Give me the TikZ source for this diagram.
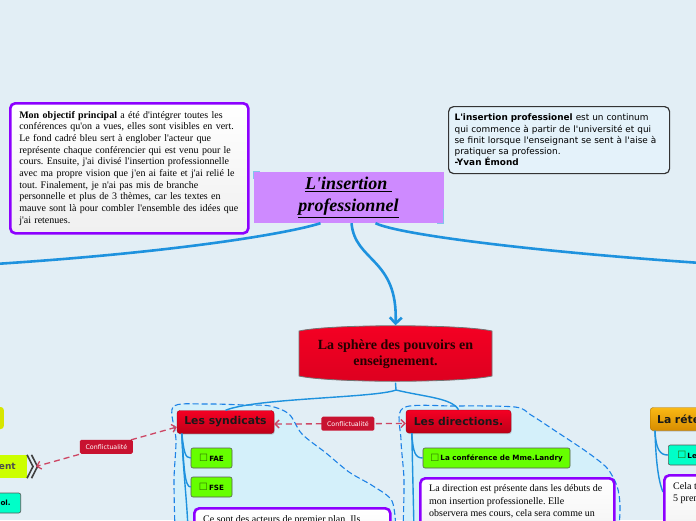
\documentclass[tikz,border=0pt]{standalone}
\usepackage{fontspec}
\setmainfont{Liberation Serif}[Ligatures=TeXOff]
\newfontfamily\vsans{DejaVu Sans}[Ligatures=TeXOff]
\usetikzlibrary{arrows.meta,positioning,shadows}
\frenchspacing

\definecolor{mapbg}{RGB}{226,238,245}
\definecolor{linkblue}{RGB}{30,146,222}
\definecolor{notepurple}{RGB}{140,0,255}
\definecolor{titlemauve}{RGB}{206,138,255}
\definecolor{topicred}{RGB}{245,0,35}
\definecolor{topicdark}{RGB}{190,0,25}
\definecolor{conflictred}{RGB}{200,18,48}
\definecolor{dashpink}{RGB}{205,70,100}
\definecolor{leafgreen}{RGB}{102,255,0}
\definecolor{leafteal}{RGB}{0,255,200}
\definecolor{limeleaf}{RGB}{204,255,0}
\definecolor{yellowtopic}{RGB}{215,230,0}
\definecolor{orangetop}{RGB}{250,185,20}
\definecolor{orangebot}{RGB}{215,140,0}
\definecolor{zonefill}{RGB}{212,240,250}
\definecolor{zoneline}{RGB}{30,130,230}
\definecolor{quotefill}{RGB}{228,242,250}
\definecolor{boxgreen}{RGB}{45,110,0}

\newcommand{\cbox}{{\mdseries\fontsize{10}{9}\selectfont\color{boxgreen}\raisebox{-0.6pt}{\char"2610}}\,}

\tikzset{
  mainlink/.style={linkblue, line width=2.6pt},
  sublink/.style={linkblue, line width=1.4pt},
  zone/.style={fill=zonefill, draw=zoneline, line width=1.1pt, dash pattern=on 6pt off 3pt},
  notebox/.style={draw=notepurple, line width=2.6pt, rounded corners=5pt, top color=white, bottom color=gray!12},
  notetext/.style={inner sep=0pt, align=left, font=\fontsize{10}{12.5}\selectfont},
  topic/.style={rounded corners=3pt, top color=topicred, bottom color=topicdark, draw=topicdark!80!black,
    line width=0.4pt, font=\vsans\bfseries\fontsize{10.8}{12}\selectfont, text=black!90, inner sep=0pt,
    drop shadow={shadow xshift=0.8pt, shadow yshift=-1.2pt, opacity=0.35}},
  leaf/.style={fill=leafgreen, draw=black!65, line width=0.6pt, rounded corners=2pt,
    font=\vsans\bfseries\fontsize{7.2}{9}\selectfont, inner sep=0pt, minimum height=20pt},
  conflict/.style={dashpink, line width=1.3pt, dash pattern=on 6pt off 4pt,
    {Straight Barb[length=4pt,width=8pt]}-{Straight Barb[length=4pt,width=8pt]}},
  conflictlabel/.style={fill=conflictred, text=white, rounded corners=1.5pt, font=\vsans\fontsize{6.3}{7}\selectfont,
    minimum width=53pt, minimum height=14pt, inner sep=0pt},
}

\begin{document}
\begin{tikzpicture}[x=1pt, y=-1pt]
  \useasboundingbox (0,0) rectangle (696,520);
  \clip (0,0) rectangle (696,520);
  \fill[mapbg] (0,0) rectangle (696,520);

  % zones
  \draw[zone] plot[smooth] coordinates {(175,530) (174,480) (176,440) (173,407) (205,404) (245,405) (270,406) (289,414) (302,434) (326,453) (349,472) (373,486) (392,501) (396,530)};
  \draw[zone] plot[smooth] coordinates {(403,530) (404,480) (401,440) (403,408) (455,406) (515,407) (531,415) (557,432) (587,452) (607,468) (617,486) (620,505) (619,530)};

  % notes
  \node[notebox, anchor=north west, text width=224pt, inner xsep=7pt, inner ysep=5pt, minimum height=130pt,
        align=left, font=\fontsize{10}{11.67}\selectfont] (objectif) at (9,102)
    {\hspace*{2pt}\textbf{Mon objectif principal} a été d'intégrer toutes les\\
     \hspace*{2pt}conférences qu'on a vues, elles sont visibles en vert.\\
     \hspace*{2pt}Le fond cadré bleu sert à englober l'acteur que\\
     \hspace*{2pt}représente chaque conférencier qui est venu pour le\\
     \hspace*{2pt}cours. Ensuite, j'ai divisé l'insertion professionnelle\\
     \hspace*{2pt}avec ma propre vision que j'en ai faite et j'ai relié le\\
     \hspace*{2pt}tout. Finalement, je n'ai pas mis de branche\\
     \hspace*{2pt}personnelle et plus de 3 thèmes, car les textes en\\
     \hspace*{2pt}mauve sont là pour combler l'ensemble des idées que\\
     \hspace*{2pt}j'ai retenues.};

  \node[draw=black!80, line width=1.2pt, fill=quotefill, rounded corners=5pt, anchor=north west, text width=209pt,
        inner xsep=6pt, minimum height=67pt, align=left, font=\vsans\fontsize{8.9}{11.25}\selectfont] (emond) at (448,106)
    {\textbf{L'insertion professionel} est un continum\\
     qui commence à partir de l'université et qui\\
     se finit lorsque l'enseignant se sent à l'aise à\\
     pratiquer sa profession.\\
     \textbf{-Yvan Émond}};

  % central topic
  \node[fill=titlemauve, minimum width=190pt, minimum height=51pt, align=center, inner sep=0pt,
        font=\bfseries\itshape\fontsize{18}{22}\selectfont] (title) at (348.5,197.5)
    {\underline{L'insertion\ }\\\underline{professionnel}};
  \draw[linkblue!55, line width=1.2pt] ([yshift=-7pt]title.north west) |- ([xshift=7pt]title.north west);
  \draw[linkblue!55, line width=1.2pt] ([yshift=14pt]title.south east) |- ([xshift=-7pt]title.south east);

  % sphere
  \path[top color=topicred, bottom color=topicred!90!black, draw=black!55, line width=0.8pt]
    (299,331) .. controls (330,324) and (461,324) .. (492,331) -- (492,376)
    .. controls (461,383) and (330,383) .. (299,376) -- cycle;
  \node[font=\bfseries\fontsize{14}{16}\selectfont, align=center, text=black!85!red,
        minimum width=193pt, minimum height=57pt] (sphere) at (395.5,354)
    {La sphère des pouvoirs en\\enseignement.};

  % main links
  \coordinate (westend) at (-5,264);
  \coordinate (eastend) at (701,263);
  \draw[mainlink] ([xshift=-28pt]title.south) .. controls (290,233) and (180,252) .. (westend);
  \draw[mainlink] ([xshift=27pt]title.south) .. controls (400,235) and (540,252) .. (eastend);
  \draw[mainlink, -{Straight Barb[length=6pt,width=12pt]}] ([xshift=3pt]title.south) .. controls (355,262) and (398,258) .. (sphere.north);

  % topics
  \node[topic, minimum width=97pt, minimum height=23pt] (syndicats) at (225.5,422) {Les syndicats};
  \node[topic, minimum width=105pt, minimum height=23pt] (directions) at (458.5,421.5) {Les directions.};
  \node[topic, top color=orangetop, bottom color=orangebot, draw=orangebot!80!black, anchor=west,
        minimum height=23pt, text width=60pt, inner xsep=7pt, align=left] (retention) at (650,419) {La réte};
  \node[fill=yellowtopic, rounded corners=3pt, minimum width=40pt, minimum height=22pt, anchor=east] (jaune) at (4,418) {};

  \coordinate (fork) at (396,390);
  \draw[sublink] (sphere.south) -- (fork);
  \draw[sublink] (fork) .. controls (375,398) and (255,398) .. (syndicats.north);
  \draw[sublink] (fork) .. controls (425,397) and (452,398) .. (directions.north);

  % leaves
  \node[leaf, minimum width=41pt] (fae) at (211.5,458) {\cbox FAE};
  \node[leaf, minimum width=41pt] (fse) at (211.5,487) {\cbox FSE};
  \node[leaf, minimum width=147pt] (landry) at (496.5,458) {\cbox La conférence de Mme.Landry};
  \node[leaf, fill=leafteal, anchor=west, text width=40pt, inner xsep=9pt, align=left] (retleaf) at (668,455) {\cbox Le};
  \node[fill=limeleaf, minimum width=67pt, minimum height=23pt, anchor=east, text width=45pt, inner xsep=11pt,
        align=right, font=\vsans\bfseries\fontsize{9}{10}\selectfont, text=black!70] (engagement) at (27,466.5) {ent};
  \draw[black!75, line width=1.6pt] (engagement.north east) -- ([xshift=6pt]engagement.east) -- (engagement.south east);
  \draw[black!75, line width=1.6pt] ([xshift=4.5pt]engagement.north east) -- ([xshift=10.5pt]engagement.east) -- ([xshift=4.5pt]engagement.south east);
  \node[leaf, fill=leafteal, anchor=east, text width=40pt, inner xsep=10pt, align=right] (nicol) at (21,503) {lol.};

  % sub links
  \coordinate (synddown) at (188,530);
  \coordinate (dirdown) at (414,530);
  \coordinate (retdown) at (663,492);
  \draw[sublink] ([xshift=5pt]syndicats.south west) .. controls (183,470) and (187,500) .. (synddown);
  \draw[sublink] ([xshift=5pt]syndicats.south west) .. controls (184,452) and (185,458) .. (fae.west);
  \draw[sublink] ([xshift=5pt]syndicats.south west) .. controls (184,470) and (185,487) .. (fse.west);
  \draw[sublink] ([xshift=6pt]directions.south west) -- (dirdown);
  \draw[sublink] ([xshift=6pt]directions.south west) .. controls (413,452) and (415,458) .. (landry.west);
  \draw[sublink] ([xshift=5pt]retention.south west) .. controls (656,470) and (660,485) .. (retdown);
  \draw[sublink] ([xshift=5pt]retention.south west) .. controls (656,450) and (660,455) .. (retleaf.west);

  % text boxes at the bottom
  \node[notebox, anchor=north west, minimum width=196pt, minimum height=60pt] (syndnote) at (193,507) {};
  \node[notetext, anchor=north west] (syndtext) at (203,515.5) {Ce sont des acteurs de premier plan. Ils};
  \node[notebox, anchor=north west, minimum width=194pt, minimum height=70pt] (dirnote) at (419,477) {};
  \node[notetext, anchor=north west] (dirtext) at (429,484.5)
    {La direction est présente dans les débuts de\\mon insertion professionelle. Elle\\observera mes cours, cela sera comme un};
  \node[notebox, anchor=north west, minimum width=60pt, minimum height=70pt] (retnote) at (663,474) {};
  \node[notetext, anchor=north west] (rettext) at (673,482) {Cela t\\5 prem};

  % conflicts
  \draw[conflict] ([yshift=-2pt]syndicats.east) -- node[conflictlabel, pos=0.56] (conflit1) {Conflictualité} ([yshift=-2pt]directions.west);
  \draw[conflict] ([yshift=-5pt]syndicats.west) -- node[conflictlabel, pos=0.5] (conflit2) {Conflictualité} ([xshift=9pt]engagement.east);
\end{tikzpicture}
\end{document}
